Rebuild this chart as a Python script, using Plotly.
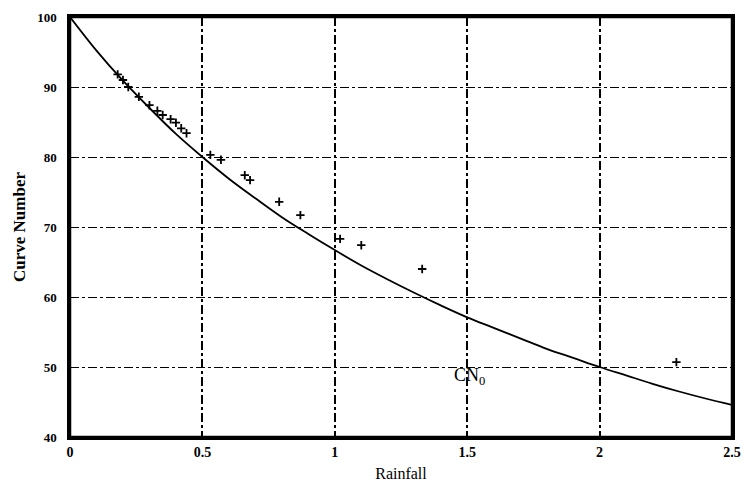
import plotly.graph_objects as go

# Fitted curve CN0
curve_rain = [0.0, 0.1, 0.2, 0.3, 0.4, 0.5, 0.6, 0.7, 0.8, 0.9, 1.0, 1.1, 1.2, 1.3,
              1.4, 1.5, 1.6, 1.7, 1.8, 1.9, 2.0, 2.1, 2.2, 2.3, 2.4, 2.5]
curve_cn = [100.0, 95.2, 90.9, 87.0, 83.3, 80.0, 76.9, 74.1, 71.4, 69.0, 66.7, 64.5,
            62.5, 60.6, 58.8, 57.1, 55.6, 54.1, 52.6, 51.3, 50.0, 48.8, 47.6, 46.5,
            45.5, 44.6]

# Observed points
obs_rain = [0.18, 0.20, 0.22, 0.26, 0.30, 0.33, 0.35, 0.38, 0.40, 0.42, 0.44,
            0.53, 0.57, 0.66, 0.68, 0.79, 0.87, 1.02, 1.10, 1.33, 2.29]
obs_cn = [91.8, 91.0, 90.0, 88.6, 87.4, 86.6, 86.0, 85.4, 84.9, 84.1, 83.4,
          80.3, 79.6, 77.4, 76.7, 73.6, 71.7, 68.3, 67.4, 64.0, 50.7]

x_ticks = [0, 0.5, 1, 1.5, 2, 2.5]
x_tick_text = ["0", "0.5", "1", "1.5", "2", "2.5"]
y_ticks = [40, 50, 60, 70, 80, 90, 100]

font_family = "Liberation Serif, Times New Roman, serif"

fig = go.Figure()
fig.add_trace(go.Scatter(x=curve_rain, y=curve_cn, mode="lines",
                         line=dict(color="black", width=1.8, shape="spline"),
                         showlegend=False))
fig.add_trace(go.Scatter(x=obs_rain, y=obs_cn, mode="markers",
                         marker=dict(symbol="cross-thin", size=6,
                                     line=dict(color="black", width=1.8)),
                         showlegend=False))

fig.add_annotation(x=1.51, y=48.6, text="CN<sub>0</sub>", showarrow=False,
                   font=dict(family=font_family, size=18, color="black"))

# plot frame
fig.add_shape(type="rect", xref="paper", yref="paper", x0=0, x1=1, y0=0, y1=1,
              line=dict(color="black", width=2.5), fillcolor="rgba(0,0,0,0)",
              layer="above")

fig.update_layout(
    width=738, height=476,
    margin=dict(l=62, r=14, t=9, b=47),
    paper_bgcolor="white", plot_bgcolor="white",
    font=dict(family=font_family, color="black"),
)
fig.update_xaxes(range=[0, 2.5], tickvals=x_ticks, ticktext=x_tick_text,
                 automargin=False, ticklabeloverflow="allow",
                 showline=True, mirror=True, linecolor="black", linewidth=2.5,
                 showgrid=True, gridcolor="black", gridwidth=1.5, griddash="dashdot",
                 ticks="", zeroline=False,
                 tickfont=dict(family=font_family, size=14, color="black", weight="bold"),
                 title=dict(text="Rainfall", standoff=10,
                            font=dict(family=font_family, size=16, color="black")))
fig.update_yaxes(range=[40, 100], tickvals=y_ticks,
                 automargin=False, ticklabeloverflow="allow", ticklabelstandoff=8,
                 showline=True, mirror=True, linecolor="black", linewidth=2.5,
                 showgrid=True, gridcolor="black", gridwidth=1, griddash="dashdot",
                 ticks="", zeroline=False,
                 tickfont=dict(family=font_family, size=13, color="black", weight="bold"),
                 title=dict(text="Curve Number", standoff=8,
                            font=dict(family=font_family, size=17, color="black", weight="bold")))

fig.write_html("out.html")
